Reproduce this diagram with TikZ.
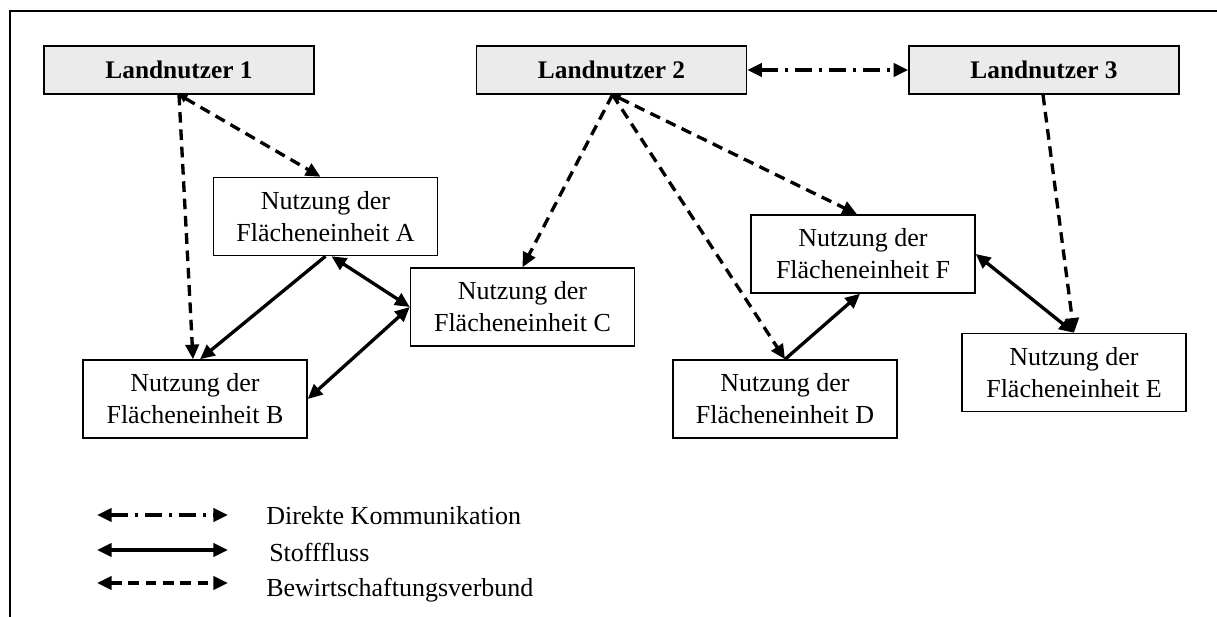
\documentclass[tikz,border=0pt]{standalone}
\usepackage{fontspec}
\setmainfont{Liberation Serif}
\usetikzlibrary{arrows.meta,calc}
\definecolor{actorfill}{RGB}{235,235,235}
\tikzset{
  bigtip/.tip={Triangle[length=11pt,width=10pt]},
  smalltip/.tip={Triangle[length=6pt,width=6pt]},
  actor/.style={draw, line width=1.1pt, fill=actorfill, minimum width=202.5pt,
    minimum height=36pt, inner sep=0pt, font=\fontsize{19}{24}\selectfont\bfseries},
  unit/.style={draw, line width=1.1pt, fill=white, minimum width=168pt,
    minimum height=58.5pt, inner sep=0pt, align=center},
  flow/.style={line width=2.5pt},
  mgmt/.style={line width=2.5pt, dash pattern=on 8pt off 5pt},
  comm/.style={line width=2.5pt, dash pattern=on 13pt off 5pt on 2.5pt off 5pt},
  legendtext/.style={anchor=base west, inner sep=0pt}
}
\begin{document}
\begin{tikzpicture}[x=0.75pt, y=-0.75pt, font=\fontsize{19.5}{24}\selectfont]
\useasboundingbox (0,0) rectangle (1217,617);

% open frame: top and left edge
\draw[line width=1.5pt] (10,617) -- (10,11) -- (1217,11);

% land users
\node[actor] (L1) at (179,70) {Landnutzer 1};
\node[actor] (L2) at (611.5,70) {Landnutzer 2};
\node[actor] (L3) at (1044,70) {Landnutzer 3};

% land units
\node[unit] (A) at (325.5,216.5) {Nutzung der\\Flächeneinheit A};
\node[unit] (B) at (195,399) {Nutzung der\\Flächeneinheit B};
\node[unit] (C) at (522.5,307) {Nutzung der\\Flächeneinheit C};
\node[unit] (D) at (785,399) {Nutzung der\\Flächeneinheit D};
\node[unit] (F) at (863,254) {Nutzung der\\Flächeneinheit F};
\node[unit] (E) at (1074,372.5) {Nutzung der\\Flächeneinheit E};

% management links
\draw[mgmt, smalltip-bigtip] (L1.south) -- ($(A.north)+(-5,0)$);
\draw[mgmt, -bigtip] (L1.south) -- ($(B.north)+(-2,0)$);
\draw[mgmt, -bigtip] ($(L2.south)+(1,0)$) -- (C.north);
\draw[mgmt, -bigtip] ($(L2.south)+(1,0)$) -- (D.north);
\draw[mgmt, smalltip-bigtip] ($(L2.south)+(1,0)$) -- ($(F.north)+(-6,0)$);
\draw[mgmt, -bigtip] ($(L3.south)+(-1,0)$) -- (E.north);

% material flows
\draw[flow, -bigtip] (A.south) -- ($(B.north)+(5,0)$);
\draw[flow, bigtip-bigtip] ($(A.south)+(6,0)$) -- (C.west);
\draw[flow, bigtip-bigtip] (B.east) -- (C.west);
\draw[flow, -bigtip] (D.north) -- ($(F.south)+(-3,0)$);
\draw[flow, bigtip-bigtip] (F.east) -- (E.north);

% direct communication
\draw[comm, bigtip-bigtip] (L2.east) -- (L3.west);

% legend
\coordinate (k1a) at (97,515);  \coordinate (k1b) at (228,515);
\coordinate (k2a) at (97,550);  \coordinate (k2b) at (228,550);
\coordinate (k3a) at (97,583);  \coordinate (k3b) at (228,583);
\draw[comm, bigtip-bigtip] (k1a) -- (k1b);
\draw[flow, bigtip-bigtip] (k2a) -- (k2b);
\draw[mgmt, bigtip-bigtip] (k3a) -- (k3b);
\node[legendtext] (t1) at (266,524) {Direkte Kommunikation};
\node[legendtext] (t2) at (269,561) {Stofffluss};
\node[legendtext] (t3) at (266,596) {Bewirtschaftungsverbund};
\end{tikzpicture}
\end{document}
